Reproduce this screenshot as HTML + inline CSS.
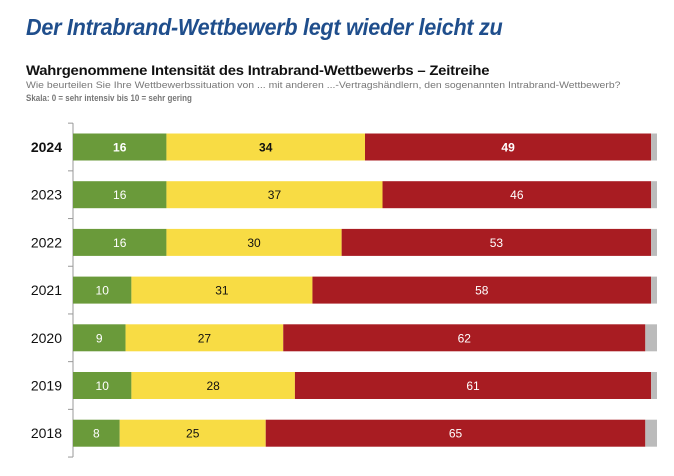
<!DOCTYPE html>
<html><head><meta charset="utf-8"><style>
body{margin:0;width:674px;height:476px;background:#fff;overflow:hidden;font-family:"Liberation Sans",sans-serif}
.t{position:absolute;white-space:nowrap;transform-origin:0 0}
</style></head><body>
<div class="t" style="left:26px;top:14px;font-size:23px;font-weight:bold;font-style:italic;color:#1f4e8c;letter-spacing:-0.3px;transform:scaleX(0.94)">Der Intrabrand-Wettbewerb legt wieder leicht zu</div>
<div class="t" style="left:26px;top:62px;font-size:14px;font-weight:bold;color:#111;letter-spacing:-0.2px;transform:scaleX(1.06)">Wahrgenommene Intensität des Intrabrand-Wettbewerbs – Zeitreihe</div>
<div class="t" style="left:26px;top:80px;font-size:9.5px;color:#777;transform:scaleX(1.1)">Wie beurteilen Sie Ihre Wettbewerbssituation von ... mit anderen ...-Vertragshändlern, den sogenannten Intrabrand-Wettbewerb?</div>
<div class="t" style="left:26px;top:93px;font-size:9.5px;font-weight:bold;color:#777;transform:scaleX(0.84)">Skala: 0 = sehr intensiv bis 10 = sehr gering</div>
<svg id="c" width="674" height="476" style="position:absolute;left:0;top:0"></svg>
<script>
const years=["2024","2023","2022","2021","2020","2019","2018"];
const green=[16,16,16,10,9,10,8];
const yellow=[34,37,30,31,27,28,25];
const red=[49,46,53,58,62,61,65];
const svg=document.getElementById('c');
const NS='http://www.w3.org/2000/svg';
const x0=73,scale=5.84,yTop=147,step=47.7,bh=27;
const x=v=>x0+v*scale;
const yc=i=>yTop+i*step;
function mk(t,a){const e=document.createElementNS(NS,t);for(const k in a)e.setAttribute(k,a[k]);svg.appendChild(e);return e;}
const ax=mk('line',{x1:x0,x2:x0,y1:yc(0)-step/2,y2:yc(6)+step/2,stroke:'#999','stroke-width':1});


for(let i=0;i<=years.length;i++){const tk=mk('line',{x1:x0-5,x2:x0,y1:yc(i)-step/2,y2:yc(i)-step/2,stroke:'#999'});

}
const cols=['#6a9a3a','#f8dc44','#a81c22','#bbbbbb'];
const txtc=['#fff','#111','#fff'];
const names=['green','yellow','red','grey'];
years.forEach((yr,i)=>{
  const bold=i===0;
  const lab=mk('text',{x:62,y:yc(i)+5,'text-anchor':'end','font-size':14,'font-weight':bold?'bold':'normal',fill:'#111'});
  lab.textContent=yr;
  
  
  const vals=[green[i],yellow[i],red[i],Math.max(0,100-green[i]-yellow[i]-red[i])];
  let acc=0;
  vals.forEach((v,j)=>{
    const r=mk('rect',{x:x(acc),y:yc(i)-bh/2,width:v*scale,height:bh,fill:cols[j]});
    
    
    if(j<3){const t=mk('text',{x:x(acc+v/2),y:yc(i)+4.5,'text-anchor':'middle','font-size':12,'font-weight':bold?'bold':'normal',fill:txtc[j]});
      t.textContent=v;
      
      }
    acc+=v;
  });
});
</script>
</body></html>
